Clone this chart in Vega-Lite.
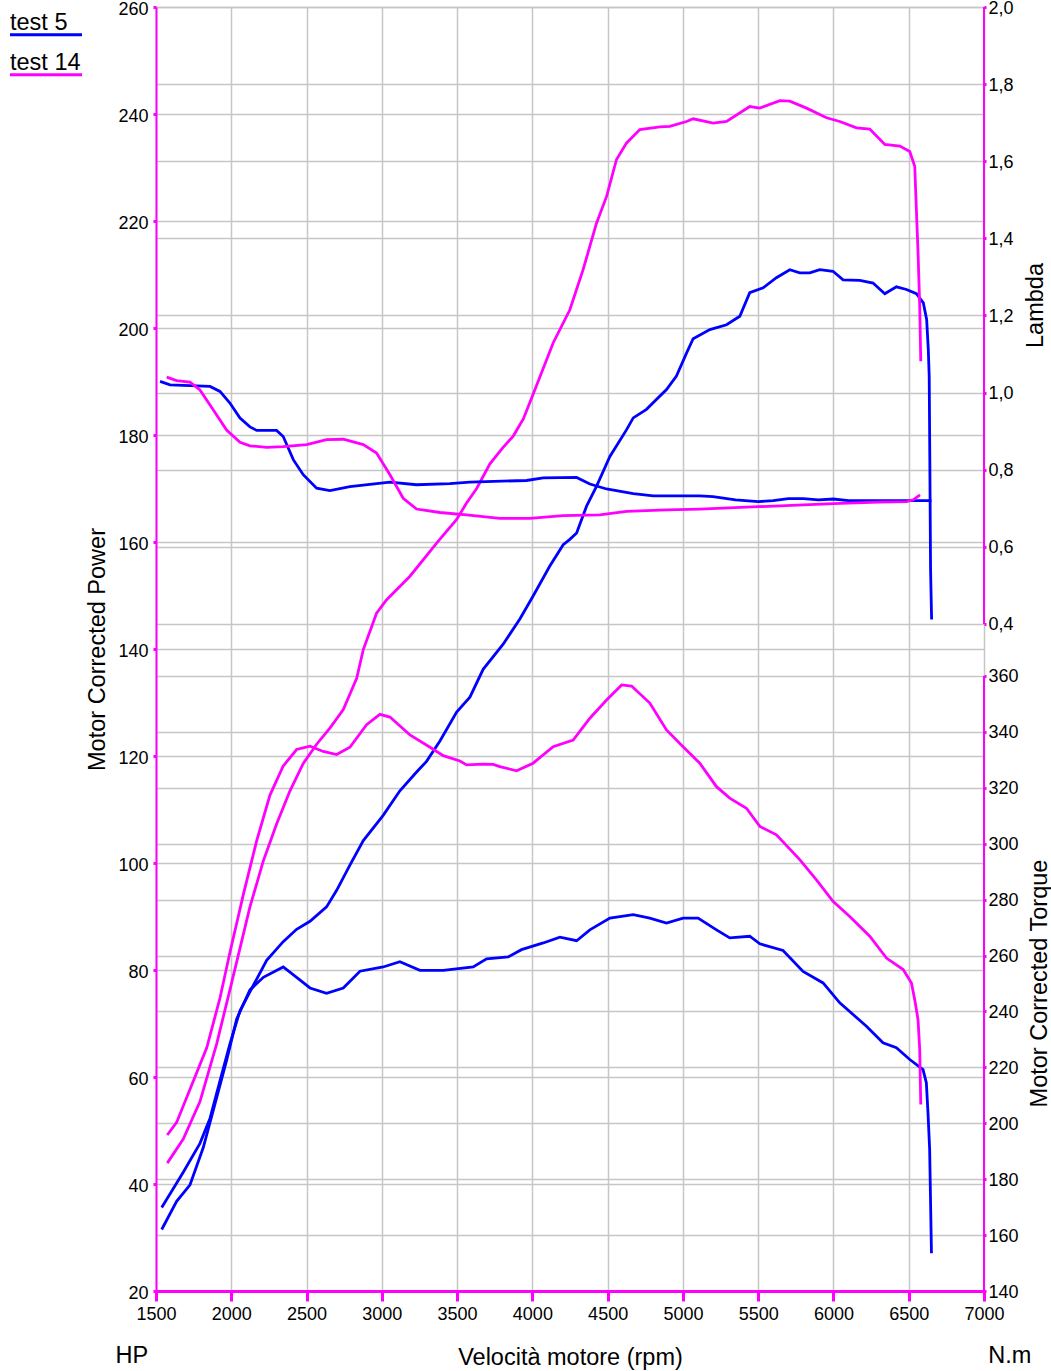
{
 "$schema": "https://vega.github.io/schema/vega-lite/v6.json",
 "width": 828, "height": 1284,
 "autosize": {"type": "none"},
 "padding": {"left": 156, "top": 7, "right": 67, "bottom": 80},
 "background": "white",
 "config": {
  "view": {"stroke": null},
  "font": "Liberation Sans",
  "axis": {"gridColor": "#c6c6c6", "gridWidth": 1.5, "labelFont": "Liberation Sans", "labelFontSize": 18, "labelColor": "#000000", "titleFont": "Liberation Sans", "titleFontSize": 23.5, "titleFontWeight": "normal", "titleColor": "#000000", "domainColor": "#ff00ff", "tickColor": "#ff00ff", "labelFlush": false, "labelOverlap": false, "labelBound": false}
 },
 "datasets": {
  "power": [
   {"rpm":1538,"test":"test 5","hp":35.6},{"rpm":1681,"test":"test 5","hp":42.2},{"rpm":1792,"test":"test 5","hp":47.6},{"rpm":1859,"test":"test 5","hp":52.3},{"rpm":1925,"test":"test 5","hp":59.3},{"rpm":1991,"test":"test 5","hp":66.2},{"rpm":2058,"test":"test 5","hp":72.4},{"rpm":2146,"test":"test 5","hp":77.1},{"rpm":2235,"test":"test 5","hp":81.8},{"rpm":2345,"test":"test 5","hp":85.3},{"rpm":2434,"test":"test 5","hp":87.6},{"rpm":2523,"test":"test 5","hp":89.1},{"rpm":2633,"test":"test 5","hp":91.8},{"rpm":2700,"test":"test 5","hp":94.9},{"rpm":2788,"test":"test 5","hp":99.6},{"rpm":2877,"test":"test 5","hp":104.2},{"rpm":3009,"test":"test 5","hp":108.9},{"rpm":3120,"test":"test 5","hp":113.5},{"rpm":3231,"test":"test 5","hp":117.0},{"rpm":3297,"test":"test 5","hp":119.0},{"rpm":3386,"test":"test 5","hp":122.8},{"rpm":3497,"test":"test 5","hp":128.2},{"rpm":3585,"test":"test 5","hp":131.0},{"rpm":3673,"test":"test 5","hp":136.2},{"rpm":3806,"test":"test 5","hp":140.9},{"rpm":3917,"test":"test 5","hp":145.6},{"rpm":4005,"test":"test 5","hp":149.9},{"rpm":4116,"test":"test 5","hp":155.5},{"rpm":4205,"test":"test 5","hp":159.5},{"rpm":4249,"test":"test 5","hp":160.5},{"rpm":4294,"test":"test 5","hp":161.7},{"rpm":4360,"test":"test 5","hp":166.7},{"rpm":4426,"test":"test 5","hp":170.4},{"rpm":4515,"test":"test 5","hp":176.0},{"rpm":4626,"test":"test 5","hp":181.0},{"rpm":4670,"test":"test 5","hp":183.2},{"rpm":4758,"test":"test 5","hp":184.8},{"rpm":4891,"test":"test 5","hp":188.5},{"rpm":4957,"test":"test 5","hp":191.0},{"rpm":5024,"test":"test 5","hp":195.3},{"rpm":5068,"test":"test 5","hp":198.0},{"rpm":5179,"test":"test 5","hp":199.7},{"rpm":5290,"test":"test 5","hp":200.6},{"rpm":5378,"test":"test 5","hp":202.2},{"rpm":5444,"test":"test 5","hp":206.6},{"rpm":5533,"test":"test 5","hp":207.5},{"rpm":5621,"test":"test 5","hp":209.4},{"rpm":5710,"test":"test 5","hp":210.9},{"rpm":5776,"test":"test 5","hp":210.3},{"rpm":5843,"test":"test 5","hp":210.3},{"rpm":5909,"test":"test 5","hp":210.9},{"rpm":5997,"test":"test 5","hp":210.6},{"rpm":6064,"test":"test 5","hp":209.0},{"rpm":6175,"test":"test 5","hp":208.9},{"rpm":6263,"test":"test 5","hp":208.4},{"rpm":6341,"test":"test 5","hp":206.4},{"rpm":6418,"test":"test 5","hp":207.7},{"rpm":6485,"test":"test 5","hp":207.2},{"rpm":6551,"test":"test 5","hp":206.4},{"rpm":6597,"test":"test 5","hp":204.7},{"rpm":6619,"test":"test 5","hp":201.6},{"rpm":6630,"test":"test 5","hp":196.0},{"rpm":6636,"test":"test 5","hp":191.0},{"rpm":6640,"test":"test 5","hp":176.0},{"rpm":6645,"test":"test 5","hp":155.0},{"rpm":6652,"test":"test 5","hp":145.5},
   {"rpm":1575,"test":"test 14","hp":43.9},{"rpm":1681,"test":"test 14","hp":48.4},{"rpm":1792,"test":"test 14","hp":55.4},{"rpm":1903,"test":"test 14","hp":66.2},{"rpm":1991,"test":"test 14","hp":76.3},{"rpm":2058,"test":"test 14","hp":84.1},{"rpm":2124,"test":"test 14","hp":91.8},{"rpm":2213,"test":"test 14","hp":100.4},{"rpm":2301,"test":"test 14","hp":107.3},{"rpm":2390,"test":"test 14","hp":113.5},{"rpm":2478,"test":"test 14","hp":118.6},{"rpm":2567,"test":"test 14","hp":122.2},{"rpm":2655,"test":"test 14","hp":125.2},{"rpm":2744,"test":"test 14","hp":128.7},{"rpm":2833,"test":"test 14","hp":134.5},{"rpm":2877,"test":"test 14","hp":139.9},{"rpm":2965,"test":"test 14","hp":146.7},{"rpm":3032,"test":"test 14","hp":149.2},{"rpm":3187,"test":"test 14","hp":153.6},{"rpm":3364,"test":"test 14","hp":159.8},{"rpm":3497,"test":"test 14","hp":164.2},{"rpm":3563,"test":"test 14","hp":167.3},{"rpm":3630,"test":"test 14","hp":170.0},{"rpm":3718,"test":"test 14","hp":174.6},{"rpm":3800,"test":"test 14","hp":177.5},{"rpm":3873,"test":"test 14","hp":179.8},{"rpm":3940,"test":"test 14","hp":183.0},{"rpm":4005,"test":"test 14","hp":187.6},{"rpm":4138,"test":"test 14","hp":197.2},{"rpm":4249,"test":"test 14","hp":203.4},{"rpm":4337,"test":"test 14","hp":210.9},{"rpm":4426,"test":"test 14","hp":219.6},{"rpm":4493,"test":"test 14","hp":224.6},{"rpm":4559,"test":"test 14","hp":231.5},{"rpm":4626,"test":"test 14","hp":234.6},{"rpm":4714,"test":"test 14","hp":237.1},{"rpm":4847,"test":"test 14","hp":237.6},{"rpm":4913,"test":"test 14","hp":237.7},{"rpm":5024,"test":"test 14","hp":238.6},{"rpm":5068,"test":"test 14","hp":239.1},{"rpm":5201,"test":"test 14","hp":238.3},{"rpm":5290,"test":"test 14","hp":238.6},{"rpm":5444,"test":"test 14","hp":241.4},{"rpm":5511,"test":"test 14","hp":241.1},{"rpm":5644,"test":"test 14","hp":242.5},{"rpm":5710,"test":"test 14","hp":242.4},{"rpm":5821,"test":"test 14","hp":241.1},{"rpm":5954,"test":"test 14","hp":239.3},{"rpm":6042,"test":"test 14","hp":238.6},{"rpm":6153,"test":"test 14","hp":237.4},{"rpm":6241,"test":"test 14","hp":237.2},{"rpm":6341,"test":"test 14","hp":234.3},{"rpm":6441,"test":"test 14","hp":234.0},{"rpm":6507,"test":"test 14","hp":233.0},{"rpm":6540,"test":"test 14","hp":230.2},{"rpm":6551,"test":"test 14","hp":222.0},{"rpm":6562,"test":"test 14","hp":214.0},{"rpm":6573,"test":"test 14","hp":204.0},{"rpm":6580,"test":"test 14","hp":193.8}
  ],
  "torque": [
   {"rpm":1538,"test":"test 5","nm":162.0},{"rpm":1637,"test":"test 5","nm":172.1},{"rpm":1726,"test":"test 5","nm":178.0},{"rpm":1814,"test":"test 5","nm":191.3},{"rpm":1903,"test":"test 5","nm":209.2},{"rpm":1969,"test":"test 5","nm":222.5},{"rpm":2036,"test":"test 5","nm":237.3},{"rpm":2124,"test":"test 5","nm":247.7},{"rpm":2213,"test":"test 5","nm":252.2},{"rpm":2345,"test":"test 5","nm":255.9},{"rpm":2434,"test":"test 5","nm":252.2},{"rpm":2523,"test":"test 5","nm":248.4},{"rpm":2633,"test":"test 5","nm":246.5},{"rpm":2744,"test":"test 5","nm":248.4},{"rpm":2855,"test":"test 5","nm":254.4},{"rpm":3009,"test":"test 5","nm":255.9},{"rpm":3120,"test":"test 5","nm":257.8},{"rpm":3253,"test":"test 5","nm":254.7},{"rpm":3408,"test":"test 5","nm":254.7},{"rpm":3607,"test":"test 5","nm":255.9},{"rpm":3696,"test":"test 5","nm":258.8},{"rpm":3839,"test":"test 5","nm":259.5},{"rpm":3928,"test":"test 5","nm":262.1},{"rpm":4072,"test":"test 5","nm":264.5},{"rpm":4183,"test":"test 5","nm":266.6},{"rpm":4294,"test":"test 5","nm":265.3},{"rpm":4382,"test":"test 5","nm":269.2},{"rpm":4515,"test":"test 5","nm":273.4},{"rpm":4670,"test":"test 5","nm":274.6},{"rpm":4780,"test":"test 5","nm":273.4},{"rpm":4891,"test":"test 5","nm":271.6},{"rpm":5001,"test":"test 5","nm":273.4},{"rpm":5101,"test":"test 5","nm":273.4},{"rpm":5223,"test":"test 5","nm":269.2},{"rpm":5311,"test":"test 5","nm":266.3},{"rpm":5444,"test":"test 5","nm":266.9},{"rpm":5511,"test":"test 5","nm":264.2},{"rpm":5665,"test":"test 5","nm":261.8},{"rpm":5798,"test":"test 5","nm":254.3},{"rpm":5931,"test":"test 5","nm":250.2},{"rpm":6042,"test":"test 5","nm":243.1},{"rpm":6219,"test":"test 5","nm":234.7},{"rpm":6329,"test":"test 5","nm":228.8},{"rpm":6418,"test":"test 5","nm":227.0},{"rpm":6507,"test":"test 5","nm":222.8},{"rpm":6595,"test":"test 5","nm":219.2},{"rpm":6617,"test":"test 5","nm":214.5},{"rpm":6628,"test":"test 5","nm":203.7},{"rpm":6639,"test":"test 5","nm":190.6},{"rpm":6651,"test":"test 5","nm":153.5},
   {"rpm":1575,"test":"test 14","nm":195.8},{"rpm":1637,"test":"test 14","nm":200.3},{"rpm":1748,"test":"test 14","nm":215.1},{"rpm":1837,"test":"test 14","nm":227.0},{"rpm":1925,"test":"test 14","nm":244.8},{"rpm":1991,"test":"test 14","nm":261.1},{"rpm":2080,"test":"test 14","nm":281.8},{"rpm":2169,"test":"test 14","nm":301.1},{"rpm":2257,"test":"test 14","nm":317.4},{"rpm":2345,"test":"test 14","nm":327.8},{"rpm":2434,"test":"test 14","nm":333.7},{"rpm":2523,"test":"test 14","nm":334.9},{"rpm":2611,"test":"test 14","nm":333.0},{"rpm":2700,"test":"test 14","nm":331.9},{"rpm":2788,"test":"test 14","nm":334.5},{"rpm":2899,"test":"test 14","nm":342.6},{"rpm":2987,"test":"test 14","nm":346.3},{"rpm":3054,"test":"test 14","nm":345.3},{"rpm":3187,"test":"test 14","nm":338.9},{"rpm":3320,"test":"test 14","nm":334.5},{"rpm":3408,"test":"test 14","nm":331.5},{"rpm":3519,"test":"test 14","nm":329.6},{"rpm":3563,"test":"test 14","nm":328.2},{"rpm":3673,"test":"test 14","nm":328.5},{"rpm":3740,"test":"test 14","nm":328.4},{"rpm":3784,"test":"test 14","nm":327.6},{"rpm":3895,"test":"test 14","nm":326.1},{"rpm":4005,"test":"test 14","nm":328.8},{"rpm":4138,"test":"test 14","nm":334.7},{"rpm":4271,"test":"test 14","nm":337.1},{"rpm":4382,"test":"test 14","nm":344.9},{"rpm":4493,"test":"test 14","nm":351.4},{"rpm":4593,"test":"test 14","nm":356.8},{"rpm":4659,"test":"test 14","nm":356.4},{"rpm":4780,"test":"test 14","nm":350.3},{"rpm":4891,"test":"test 14","nm":340.7},{"rpm":5001,"test":"test 14","nm":334.7},{"rpm":5112,"test":"test 14","nm":328.8},{"rpm":5223,"test":"test 14","nm":320.4},{"rpm":5311,"test":"test 14","nm":316.3},{"rpm":5422,"test":"test 14","nm":312.7},{"rpm":5511,"test":"test 14","nm":306.2},{"rpm":5621,"test":"test 14","nm":303.2},{"rpm":5776,"test":"test 14","nm":294.3},{"rpm":5887,"test":"test 14","nm":287.1},{"rpm":5997,"test":"test 14","nm":279.4},{"rpm":6108,"test":"test 14","nm":274.0},{"rpm":6241,"test":"test 14","nm":266.9},{"rpm":6352,"test":"test 14","nm":259.1},{"rpm":6463,"test":"test 14","nm":255.0},{"rpm":6518,"test":"test 14","nm":250.2},{"rpm":6540,"test":"test 14","nm":244.2},{"rpm":6562,"test":"test 14","nm":237.0},{"rpm":6573,"test":"test 14","nm":226.3},{"rpm":6580,"test":"test 14","nm":206.7}
  ],
  "lambda": [
   {"rpm":1527,"test":"test 5","lambda":1.029},{"rpm":1593,"test":"test 5","lambda":1.020},{"rpm":1726,"test":"test 5","lambda":1.018},{"rpm":1859,"test":"test 5","lambda":1.016},{"rpm":1925,"test":"test 5","lambda":1.003},{"rpm":1991,"test":"test 5","lambda":0.973},{"rpm":2058,"test":"test 5","lambda":0.934},{"rpm":2124,"test":"test 5","lambda":0.911},{"rpm":2169,"test":"test 5","lambda":0.902},{"rpm":2301,"test":"test 5","lambda":0.902},{"rpm":2345,"test":"test 5","lambda":0.886},{"rpm":2412,"test":"test 5","lambda":0.826},{"rpm":2478,"test":"test 5","lambda":0.787},{"rpm":2567,"test":"test 5","lambda":0.752},{"rpm":2655,"test":"test 5","lambda":0.746},{"rpm":2788,"test":"test 5","lambda":0.756},{"rpm":3054,"test":"test 5","lambda":0.768},{"rpm":3231,"test":"test 5","lambda":0.761},{"rpm":3452,"test":"test 5","lambda":0.764},{"rpm":3585,"test":"test 5","lambda":0.768},{"rpm":3961,"test":"test 5","lambda":0.772},{"rpm":4072,"test":"test 5","lambda":0.779},{"rpm":4294,"test":"test 5","lambda":0.780},{"rpm":4382,"test":"test 5","lambda":0.763},{"rpm":4493,"test":"test 5","lambda":0.750},{"rpm":4670,"test":"test 5","lambda":0.738},{"rpm":4803,"test":"test 5","lambda":0.732},{"rpm":5112,"test":"test 5","lambda":0.732},{"rpm":5200,"test":"test 5","lambda":0.730},{"rpm":5350,"test":"test 5","lambda":0.722},{"rpm":5500,"test":"test 5","lambda":0.717},{"rpm":5600,"test":"test 5","lambda":0.720},{"rpm":5700,"test":"test 5","lambda":0.725},{"rpm":5800,"test":"test 5","lambda":0.725},{"rpm":5900,"test":"test 5","lambda":0.722},{"rpm":6000,"test":"test 5","lambda":0.724},{"rpm":6100,"test":"test 5","lambda":0.720},{"rpm":6300,"test":"test 5","lambda":0.720},{"rpm":6500,"test":"test 5","lambda":0.720},{"rpm":6651,"test":"test 5","lambda":0.720},
   {"rpm":1571,"test":"test 14","lambda":1.040},{"rpm":1637,"test":"test 14","lambda":1.031},{"rpm":1726,"test":"test 14","lambda":1.027},{"rpm":1792,"test":"test 14","lambda":1.007},{"rpm":1881,"test":"test 14","lambda":0.955},{"rpm":1969,"test":"test 14","lambda":0.903},{"rpm":2058,"test":"test 14","lambda":0.871},{"rpm":2124,"test":"test 14","lambda":0.862},{"rpm":2235,"test":"test 14","lambda":0.858},{"rpm":2345,"test":"test 14","lambda":0.860},{"rpm":2501,"test":"test 14","lambda":0.865},{"rpm":2633,"test":"test 14","lambda":0.878},{"rpm":2744,"test":"test 14","lambda":0.879},{"rpm":2877,"test":"test 14","lambda":0.865},{"rpm":2965,"test":"test 14","lambda":0.843},{"rpm":3054,"test":"test 14","lambda":0.787},{"rpm":3142,"test":"test 14","lambda":0.726},{"rpm":3231,"test":"test 14","lambda":0.698},{"rpm":3386,"test":"test 14","lambda":0.689},{"rpm":3563,"test":"test 14","lambda":0.683},{"rpm":3784,"test":"test 14","lambda":0.674},{"rpm":3983,"test":"test 14","lambda":0.674},{"rpm":4205,"test":"test 14","lambda":0.681},{"rpm":4448,"test":"test 14","lambda":0.683},{"rpm":4626,"test":"test 14","lambda":0.692},{"rpm":4891,"test":"test 14","lambda":0.696},{"rpm":5112,"test":"test 14","lambda":0.698},{"rpm":5500,"test":"test 14","lambda":0.704},{"rpm":6000,"test":"test 14","lambda":0.712},{"rpm":6300,"test":"test 14","lambda":0.716},{"rpm":6486,"test":"test 14","lambda":0.717},{"rpm":6530,"test":"test 14","lambda":0.722},{"rpm":6575,"test":"test 14","lambda":0.735}
  ]
 },
 "layer": [
  {
   "layer": [
    {
     "data": {"name": "power"},
     "mark": {"type": "line", "strokeWidth": 2.8},
     "encoding": {
      "x": {"field": "rpm", "type": "quantitative", "scale": {"domain": [1500, 7000], "nice": false, "zero": false},
            "axis": {"values": [1500,2000,2500,3000,3500,4000,4500,5000,5500,6000,6500,7000], "format": "d", "title": "Velocità motore (rpm)", "grid": true, "domainWidth": 3, "tickSize": 10, "tickWidth": 3, "labelPadding": 4, "titleY": 66, "titleBaseline": "middle"}},
      "y": {"field": "hp", "type": "quantitative", "scale": {"domain": [20, 260], "nice": false, "zero": false},
            "axis": {"orient": "left", "values": [20,40,60,80,100,120,140,160,180,200,220,240,260], "title": "Motor Corrected Power", "grid": true, "domainWidth": 2, "tickSize": 3, "tickWidth": 3, "labelPadding": 5, "labelOffset": 2, "titleAngle": 270, "titleX": -59, "titleY": 642, "titleAlign": "center", "titleBaseline": "middle"}},
      "color": {"field": "test", "type": "nominal", "scale": {"domain": ["test 5", "test 14"], "range": ["#0000ff", "#ff00ff"]},
                "legend": {"orient": "none", "legendX": -146, "legendY": 4, "title": null, "symbolType": "M-3.6,1.2H3.6", "symbolSize": 400, "symbolStrokeWidth": 3, "symbolOffset": 24.25, "labelOffset": -47.75, "labelFontSize": 23.5, "labelFont": "Liberation Sans", "labelColor": "#000000", "rowPadding": 9, "padding": 0}}
     }
    },
    {
     "data": {"values": [{"label": "HP"}]},
     "mark": {"type": "text", "fontSize": 23.5, "font": "Liberation Sans", "color": "#000000", "align": "center", "baseline": "middle"},
     "encoding": {"x": {"datum": 1340}, "y": {"datum": 7.8}, "text": {"field": "label"}}
    }
   ]
  },
  {
   "layer": [
    {
     "data": {"name": "lambda"},
     "mark": {"type": "line", "strokeWidth": 2.8},
     "encoding": {
      "x": {"field": "rpm", "type": "quantitative"},
      "y": {"field": "lambda", "type": "quantitative", "scale": {"domain": [-1.33, 2.0], "nice": false, "zero": false},
            "axis": {"orient": "right", "values": [0.4,0.6,0.8,1.0,1.2,1.4,1.6,1.8,2.0], "labelExpr": "replace(format(datum.value, '.1f'), '.', ',')", "domain": false, "grid": true, "tickSize": 2, "tickWidth": 3, "labelPadding": 2, "labelOffset": 1, "title": "Lambda", "titleAngle": 270, "titleX": 51, "titleY": 298, "titleAlign": "center", "titleBaseline": "middle"}},
      "color": {"field": "test", "type": "nominal"}
     }
    },
    {
     "data": {"values": [{"lo": 0.4, "hi": 2.0}]},
     "mark": {"type": "rule", "color": "#ff00ff", "strokeWidth": 2},
     "encoding": {"x": {"datum": 7000}, "y": {"field": "lo", "type": "quantitative"}, "y2": {"field": "hi"}}
    }
   ]
  },
  {
   "layer": [
    {
     "data": {"name": "torque"},
     "mark": {"type": "line", "strokeWidth": 2.8},
     "encoding": {
      "x": {"field": "rpm", "type": "quantitative"},
      "y": {"field": "nm", "type": "quantitative", "scale": {"domain": [140, 599.3], "nice": false, "zero": false},
            "axis": {"orient": "right", "values": [140,160,180,200,220,240,260,280,300,320,340,360], "domain": false, "grid": true, "tickSize": 2, "tickWidth": 3, "labelPadding": 2, "labelOffset": 1, "title": "Motor Corrected Torque", "titleAngle": 270, "titleX": 55, "titleY": 976, "titleAlign": "center", "titleBaseline": "middle"}},
      "color": {"field": "test", "type": "nominal"}
     }
    },
    {
     "data": {"values": [{"lo": 140, "hi": 360}]},
     "mark": {"type": "rule", "color": "#ff00ff", "strokeWidth": 2},
     "encoding": {"x": {"datum": 7000}, "y": {"field": "lo", "type": "quantitative"}, "y2": {"field": "hi"}}
    },
    {
     "data": {"values": [{"label": "N.m"}]},
     "mark": {"type": "text", "fontSize": 23.5, "font": "Liberation Sans", "color": "#000000", "align": "center", "baseline": "middle"},
     "encoding": {"x": {"datum": 7172}, "y": {"datum": 116.7}, "text": {"field": "label"}}
    }
   ]
  }
 ],
 "resolve": {"scale": {"y": "independent"}}
}
